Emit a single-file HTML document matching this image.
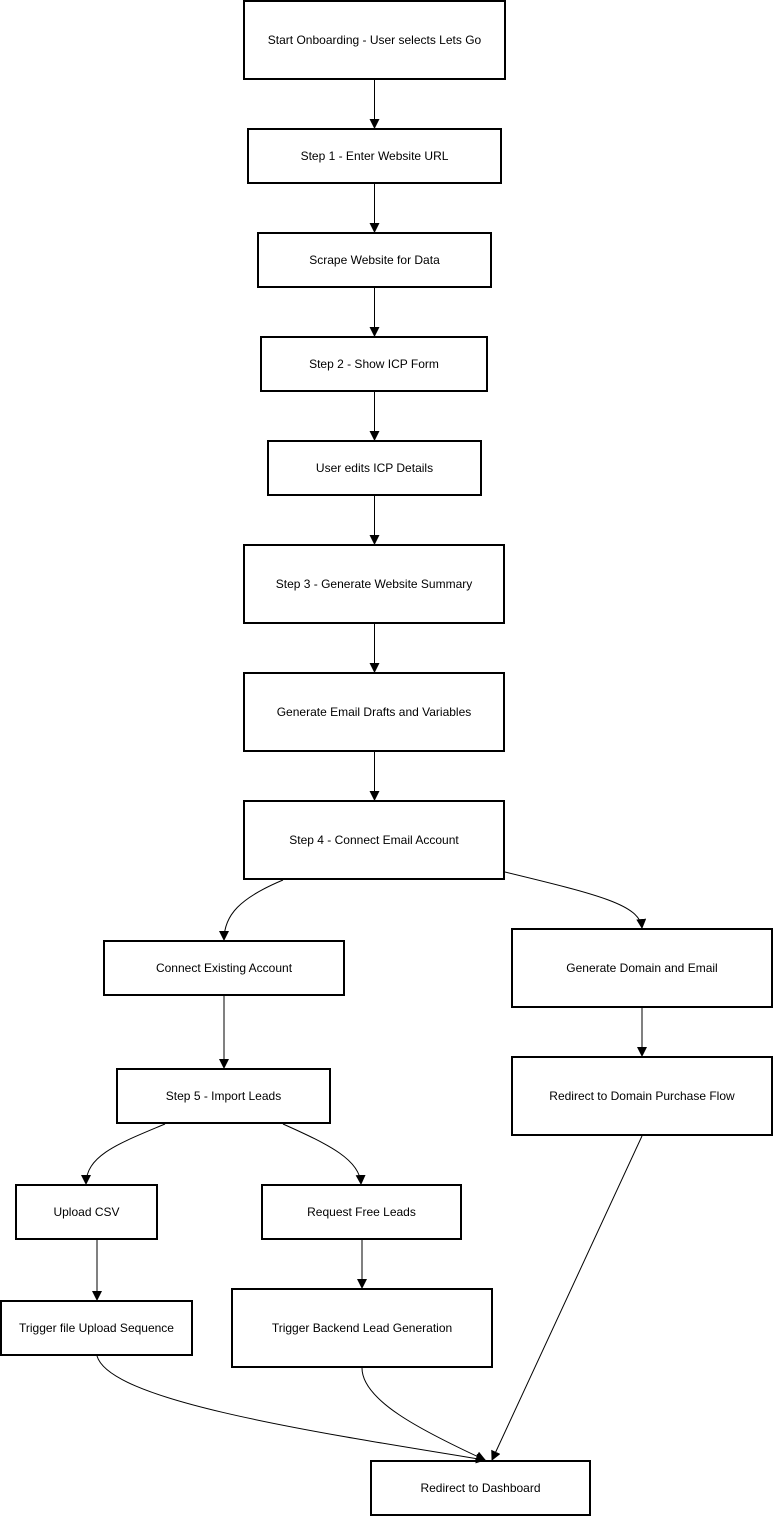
<!DOCTYPE html>
<html><head><meta charset="utf-8"><style>
html,body{margin:0;padding:0;background:#fff;}
svg{display:block;}
text{font-family:"Liberation Sans",Arial,sans-serif;font-size:12px;fill:#000;}
</style></head><body>
<svg width="773" height="1516" viewBox="0 0 773 1516" xmlns="http://www.w3.org/2000/svg">
<defs><marker id="a" markerWidth="10" markerHeight="10" refX="9" refY="5" orient="auto" markerUnits="userSpaceOnUse"><path d="M0,0 L10,5 L0,10 z" fill="#000"/></marker></defs>
<g fill="#fff" stroke="#000" stroke-width="2">
<rect x="244" y="1" width="261" height="78"/>
<rect x="248" y="129" width="253" height="54"/>
<rect x="258" y="233" width="233" height="54"/>
<rect x="261" y="337" width="226" height="54"/>
<rect x="268" y="441" width="213" height="54"/>
<rect x="244" y="545" width="260" height="78"/>
<rect x="244" y="673" width="260" height="78"/>
<rect x="244" y="801" width="260" height="78"/>
<rect x="104" y="941" width="240" height="54"/>
<rect x="512" y="929" width="260" height="78"/>
<rect x="117" y="1069" width="213" height="54"/>
<rect x="512" y="1057" width="260" height="78"/>
<rect x="16" y="1185" width="141" height="54"/>
<rect x="262" y="1185" width="199" height="54"/>
<rect x="1" y="1301" width="191" height="54"/>
<rect x="232" y="1289" width="260" height="78"/>
<rect x="371" y="1461" width="219" height="54"/>
</g>
<g text-anchor="middle">
<text x="374.5" y="44">Start Onboarding - User selects Lets Go</text>
<text x="374.5" y="160">Step 1 - Enter Website URL</text>
<text x="374.5" y="264">Scrape Website for Data</text>
<text x="374" y="368">Step 2 - Show ICP Form</text>
<text x="374.5" y="472">User edits ICP Details</text>
<text x="374" y="588">Step 3 - Generate Website Summary</text>
<text x="374" y="716">Generate Email Drafts and Variables</text>
<text x="374" y="844">Step 4 - Connect Email Account</text>
<text x="224" y="972">Connect Existing Account</text>
<text x="642" y="972">Generate Domain and Email</text>
<text x="223.5" y="1100">Step 5 - Import Leads</text>
<text x="642" y="1100">Redirect to Domain Purchase Flow</text>
<text x="86.5" y="1216">Upload CSV</text>
<text x="361.5" y="1216">Request Free Leads</text>
<text x="96.5" y="1332">Trigger file Upload Sequence</text>
<text x="362" y="1332">Trigger Backend Lead Generation</text>
<text x="480.5" y="1492">Redirect to Dashboard</text>
</g>
<g fill="none" stroke="#000" stroke-width="1" marker-end="url(#a)">
<path d="M374.5 80 V128"/>
<path d="M374.5 184 V232"/>
<path d="M374.5 288 V336"/>
<path d="M374.5 392 V440"/>
<path d="M374.5 496 V544"/>
<path d="M374.5 624 V672"/>
<path d="M374.5 752 V800"/>
<path d="M283 880 C240 898 224 915 224 940"/>
<path d="M505 872 C600 895 640 905 642 928"/>
<path d="M224 996 V1068"/>
<path d="M642 1008 V1056"/>
<path d="M165 1124 C120 1143 86 1155 86 1184"/>
<path d="M283 1124 C330 1145 360 1160 361 1184"/>
<path d="M97 1240 V1300"/>
<path d="M362 1240 V1288"/>
<path d="M97 1356 C110 1400 300 1430 485 1460"/>
<path d="M362 1368 C362 1400 420 1430 485 1460"/>
<path d="M642 1136 L492 1460"/>
</g>
</svg>
</body></html>
